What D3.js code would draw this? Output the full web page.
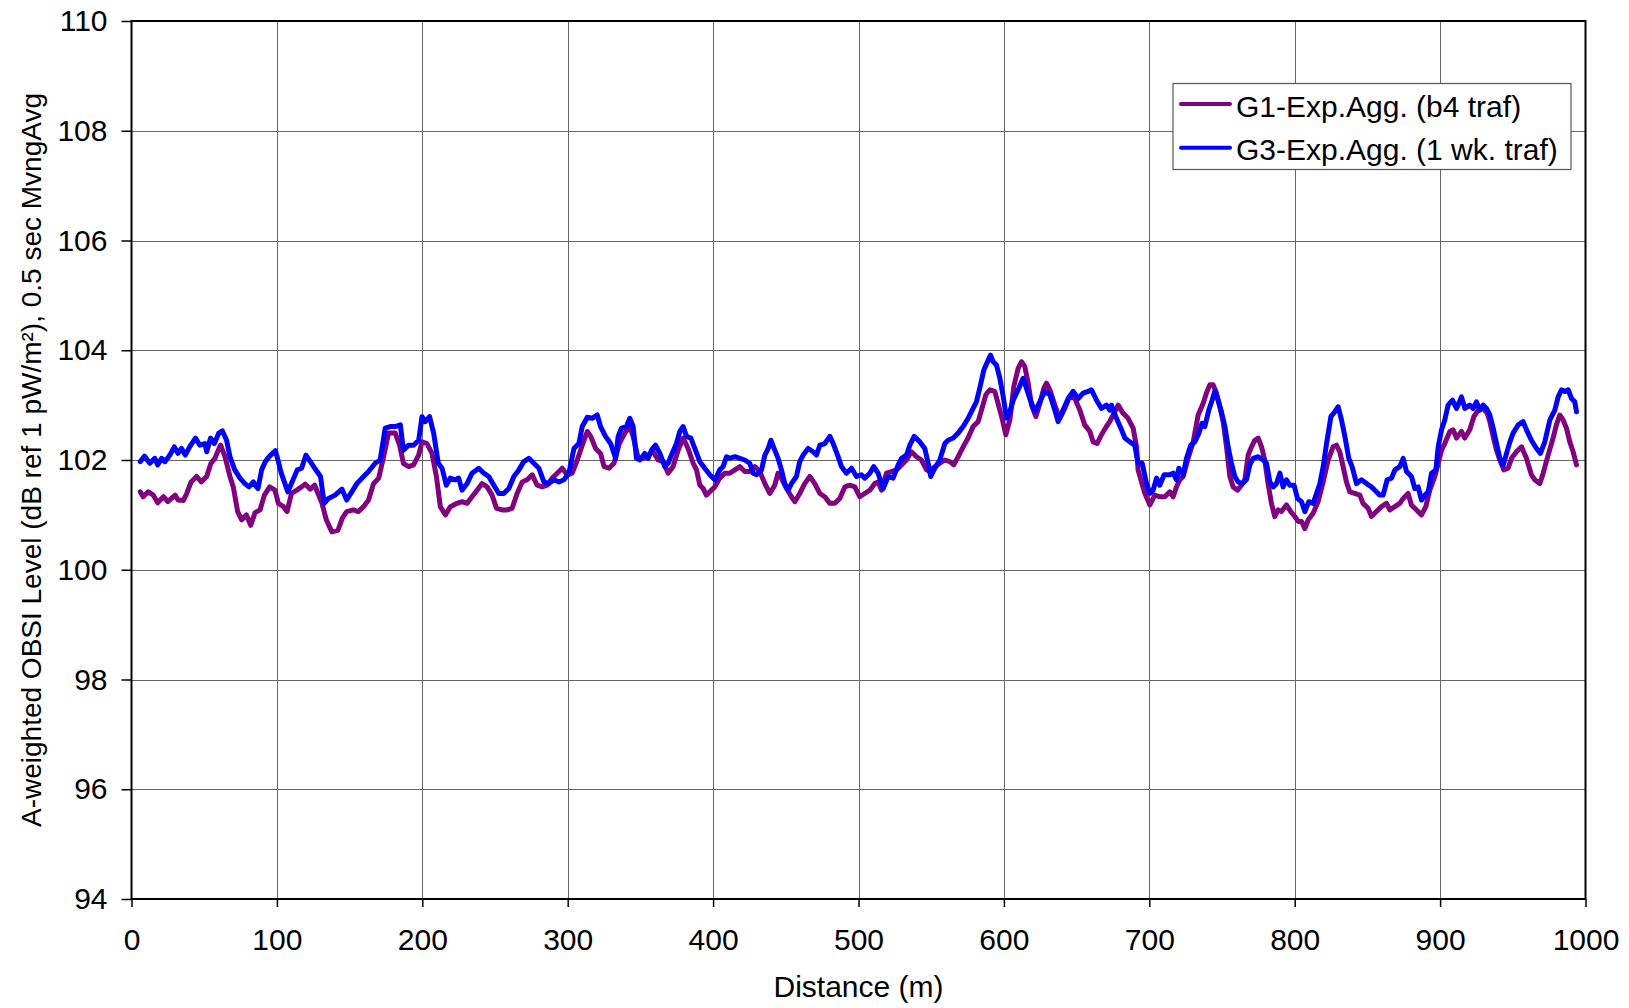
<!DOCTYPE html>
<html>
<head>
<meta charset="utf-8">
<script src="https://cdn.jsdelivr.net/npm/d3@7"></script>
<style>
  html, body { margin: 0; padding: 0; background: #fff; }
  svg { display: block; }
  text { font-family: "Liberation Sans", Arial, sans-serif; fill: #000; }
</style>
</head>
<body>
<svg id="chart" width="1629" height="1008"></svg>
<script>
// ---- data ----
const xTicks = [0, 100, 200, 300, 400, 500, 600, 700, 800, 900, 1000];
const yTicks = [94, 96, 98, 100, 102, 104, 106, 108, 110];
const seriesNames = ["G1-Exp.Agg. (b4 traf)", "G3-Exp.Agg. (1 wk. traf)"];
const seriesColors = ["#800080", "#0000FF"];
const xTitle = "Distance (m)";
const yTitle = "A-weighted OBSI Level (dB ref 1 pW/m²), 0.5 sec MvngAvg";

const g1Dist = [6,8,11.5,15,18,22,25,30,32,35.6,38,41,44.8,48,51.7,54.6,57.4,59.7,61.3,64.3,67.7,70,73,75.8,79,82,85,88.4,91.4,95,98.7,101,104.5,107,110,113.7,117,119.4,123,126,131,134,137.8,142,145,148,152.7,156,159.6,163,166.5,170,173.4,176.8,181.4,184.4,187,190.6,194,197.5,199.8,203.2,206.7,209.7,212.4,215.9,219.3,223.9,227.3,230.8,234.2,237.7,241.1,244.6,248,251,254.9,258.3,261.8,265.2,268.7,272.1,275.6,279,282.5,285.9,289.3,292.8,296.2,299.7,303.1,306.6,310,313.5,315.8,319.2,322.6,325,328.4,331.8,335.5,339.3,342.7,345,348.5,351.9,355.3,358.8,362.2,365.6,369.1,372.5,376,379.4,382.8,386.3,388.6,390.9,393.2,395.4,397.7,401.2,404.6,408,411.5,415,418.4,421.8,425.2,428.7,432.1,435.6,439,442.4,444.7,447,450.5,453.9,456.2,459.6,463,466.5,469.9,473.4,476.8,480.3,483.7,487.1,490.6,494,497.5,500.9,504.3,507.8,511.2,513.5,515.8,519.2,522.7,526.1,529.6,533,536.4,539.9,543.3,546.8,549,552.5,555.9,559.4,562.8,565.5,568.5,572,575.4,578.8,582.3,584.6,587.6,590.3,593.7,596,599,601.3,604.1,606.8,609.8,612.1,614.4,616.7,619,622,624.7,627.5,629.3,632,635,638.5,641.9,645.3,648.8,652.2,655.6,659.1,661.4,664.1,667.1,670.5,672.8,675.1,678.6,682,685.4,688.9,691.2,692.3,694.6,697,700.4,703.8,707.2,710.7,714.1,716.4,718.7,721,723.3,726.7,730.2,733.6,737,739.3,741.6,743.9,746.2,748.5,750.8,753.1,755.4,757.7,760.7,763.4,765.7,768,770.3,772.6,774.9,777.2,779.4,781.7,784,786.3,788.6,790.9,794.3,797.3,800.1,802.4,804.7,807,809.3,812.7,816.1,819.6,823,826.4,828.7,831,833.3,835.6,837.9,841.3,844.8,847,850.5,852.8,856.2,859.7,863.1,865.4,868.9,872.3,874.6,878,880.3,883.8,887.2,890.2,892.9,896.4,898.7,901,903.2,906.7,909,911.3,914.7,917,920.4,923.2,926.2,929.6,932.4,934.2,936.5,938.8,941.5,943.8,946.8,949.1,952.5,956,959.4,962.8,965.1,968.6,970.9,974.3,977.7,980,982.3,984.6,986.9,989.2,991.5,993.8];
const g1Vals = [101.42,101.33,101.42,101.36,101.22,101.33,101.24,101.36,101.27,101.26,101.39,101.60,101.70,101.60,101.70,101.94,102.03,102.18,102.27,102.06,101.70,101.51,101.06,100.91,101.00,100.81,101.04,101.09,101.36,101.51,101.45,101.21,101.15,101.06,101.39,101.45,101.51,101.56,101.47,101.54,101.21,100.91,100.69,100.72,100.94,101.06,101.09,101.06,101.15,101.27,101.57,101.67,102.06,102.49,102.49,102.27,101.94,101.88,101.91,102.09,102.33,102.30,102.12,101.70,101.15,101.00,101.15,101.21,101.24,101.21,101.33,101.45,101.57,101.51,101.36,101.12,101.09,101.09,101.12,101.39,101.60,101.64,101.73,101.54,101.51,101.54,101.67,101.76,101.85,101.73,101.76,102.00,102.27,102.52,102.43,102.21,102.12,101.88,101.85,101.94,102.30,102.49,102.61,102.43,102.03,102.03,102.09,102.15,102.00,101.97,101.76,101.88,102.18,102.40,102.21,101.94,101.82,101.54,101.48,101.36,101.42,101.51,101.67,101.76,101.76,101.82,101.88,101.79,101.79,101.88,101.79,101.57,101.39,101.54,101.76,101.67,101.48,101.33,101.24,101.39,101.57,101.70,101.57,101.39,101.33,101.21,101.21,101.30,101.51,101.54,101.51,101.33,101.39,101.45,101.57,101.60,101.45,101.76,101.79,101.82,101.91,102.00,102.15,102.06,102.00,101.82,101.79,101.88,101.94,102.00,101.97,101.91,102.06,102.24,102.40,102.61,102.70,102.91,103.19,103.28,103.25,103.03,102.73,102.46,102.73,103.34,103.67,103.79,103.70,103.40,103.00,102.79,103.03,103.31,103.40,103.25,103.00,102.76,102.94,103.16,103.12,102.91,102.64,102.52,102.33,102.30,102.46,102.61,102.70,102.82,103.00,102.85,102.76,102.58,102.24,101.82,101.60,101.39,101.18,101.36,101.33,101.33,101.42,101.33,101.51,101.64,101.70,102.03,102.33,102.82,103.03,103.22,103.37,103.37,103.22,102.97,102.70,102.24,101.70,101.51,101.45,101.54,101.64,102.09,102.24,102.36,102.40,102.24,102.00,101.57,101.21,100.97,101.09,101.06,101.18,101.06,100.97,100.88,100.88,100.75,100.91,101.03,101.24,101.60,102.00,102.24,102.27,102.15,101.88,101.60,101.42,101.39,101.36,101.21,101.12,100.97,101.06,101.15,101.21,101.09,101.15,101.21,101.30,101.39,101.18,101.09,101.00,101.15,101.45,101.70,101.94,102.18,102.30,102.52,102.55,102.40,102.52,102.40,102.55,102.79,102.91,102.94,102.85,102.70,102.43,102.18,101.97,101.82,101.85,102.03,102.15,102.24,102.03,101.73,101.64,101.57,101.76,102.09,102.40,102.64,102.82,102.73,102.58,102.33,102.15,101.91];

const g3Dist = [6,9,12.6,16,18,20.7,23,26.4,29.4,32,34.4,37,40,44,47,50.5,51.7,54.4,57,60,62.5,65.4,67.7,71,74.6,78,80.8,83.8,86,87,89.5,92,95,99,101,103,107.5,110,114,117,120,123,126,130,132.5,135.5,140,144.7,148,151.5,155,159.6,163,167.6,171,174.5,178,181.4,184.9,187,190.6,194,197.5,199.8,202,205,207.8,211,213.6,216.5,219.3,222.7,225,227.3,230.8,234.2,238.8,242.3,245.7,249.2,252.6,256,259.5,263,266.4,269.8,273.3,276.7,280.2,283.6,287,290.5,293.9,297.4,300.8,304.3,307.7,310,313.5,316.9,320.3,322.6,326,329.5,333,334.7,337,340.4,342.7,345,347.3,349.6,353,355.3,357.6,360.4,363.4,366.8,369.1,371.8,374.8,377.1,379.4,381.7,384.7,387.4,390.9,394.3,397.7,401.2,404.6,406.9,409.2,411.5,415,418.4,421.8,425.2,427.5,429.9,433.3,435.6,437.9,439.7,442.4,444.7,447,449.3,451.6,453.9,457.3,459.6,461.9,465.4,468.8,471.1,473.4,476.8,480.3,482.6,486,488.3,491.7,495.2,498.6,502,504.3,507.8,510.5,513.5,517,520.4,523.8,527.3,529.6,533,535.3,538.3,542.2,545.6,547.9,549.7,552.5,555.9,559.4,561.6,565.1,568.5,572,575.4,578.8,581.1,583.4,586.2,589.2,590.8,592.6,594.9,597.2,599.5,601.8,604.1,606.4,609.8,613.2,615.5,617.8,621.3,624.7,628.1,631.6,635,637.3,640.7,644.2,647.6,651.1,654.5,657.9,660.2,663.7,667.1,670.5,672.8,674,677.4,680.9,683.2,686.6,690,692.3,695.1,698.1,700.4,702.6,705,707.2,710.2,714.1,716.4,718.7,720.3,723.3,725.6,728.5,731.3,734.1,736.3,738.2,740.9,743.2,745,747.3,749.6,752,754.2,756.5,758.8,761.1,763.9,766.8,769.1,771.4,774.9,778.3,780.6,782.9,785.2,787.5,789.8,792,794.3,796.6,799.6,801.9,804.7,807,809.7,812.7,815,817.3,819.6,821.9,824.9,827.6,829.9,832.2,834.5,837.2,839.5,842.5,845.9,849.4,852.8,855.1,858.5,860.8,863.6,866.6,868.9,872.3,874.6,876.9,880.3,882.6,884.9,887.2,889.5,891.8,894.1,897.1,898.7,901,903.2,905.5,908.5,911.3,914.7,917,920.4,922.7,925,927.3,929.6,931.9,934.2,936.5,938.8,941.1,943.4,945.7,948,950.2,953.7,957.1,959.4,962.8,966.3,969,972,975.5,978.9,981.2,983.5,985.8,988.1,990.4,992.6,993.8];
const g3Vals = [101.97,102.07,101.94,102.03,101.91,102.03,101.97,102.09,102.24,102.12,102.21,102.09,102.24,102.40,102.27,102.30,102.15,102.40,102.30,102.49,102.53,102.36,102.06,101.82,101.67,101.57,101.51,101.60,101.51,101.48,101.82,101.97,102.07,102.17,101.97,101.76,101.42,101.57,101.82,101.85,102.09,101.97,101.85,101.70,101.21,101.30,101.36,101.47,101.27,101.42,101.57,101.70,101.79,101.94,102.00,102.58,102.61,102.61,102.64,102.18,102.27,102.27,102.36,102.79,102.70,102.79,102.49,101.94,101.85,101.54,101.67,101.64,101.67,101.45,101.57,101.76,101.85,101.76,101.70,101.54,101.39,101.39,101.48,101.70,101.82,101.97,102.03,101.94,101.85,101.60,101.57,101.64,101.60,101.64,101.76,102.21,102.30,102.61,102.78,102.76,102.82,102.61,102.43,102.30,102.03,102.43,102.58,102.61,102.76,102.61,102.03,102.00,102.12,102.03,102.18,102.27,102.12,101.88,101.94,102.12,102.30,102.52,102.61,102.43,102.40,102.21,101.97,101.85,101.73,101.64,101.82,101.88,102.06,102.03,102.06,102.03,102.00,101.94,101.76,101.73,101.82,102.09,102.21,102.36,102.18,102.03,101.82,101.57,101.45,101.57,101.70,101.97,102.09,102.21,102.15,102.09,102.27,102.30,102.43,102.30,102.06,101.88,101.76,101.85,101.70,101.73,101.67,101.76,101.88,101.76,101.48,101.70,101.67,101.91,102.03,102.09,102.27,102.43,102.33,102.21,101.94,101.70,101.85,102.00,102.30,102.36,102.40,102.49,102.61,102.76,102.94,103.06,103.31,103.64,103.82,103.91,103.79,103.73,103.49,103.16,102.76,102.88,103.09,103.28,103.49,103.31,103.12,102.88,103.06,103.25,103.19,102.91,102.70,102.91,103.12,103.25,103.12,103.22,103.25,103.28,103.09,102.94,103.00,102.91,103.00,102.76,102.55,102.40,102.33,102.27,101.94,101.94,101.57,101.39,101.45,101.67,101.54,101.73,101.73,101.76,101.64,101.85,101.73,102.03,102.27,102.33,102.49,102.67,102.61,102.91,103.09,103.25,103.09,102.88,102.61,102.24,101.94,101.70,101.60,101.57,101.64,101.91,102.03,102.06,102.00,101.94,101.60,101.51,101.57,101.76,101.51,101.64,101.54,101.54,101.30,101.24,101.06,101.24,101.21,101.39,101.57,101.88,102.30,102.79,102.88,102.97,102.73,102.43,102.03,101.88,101.57,101.64,101.57,101.51,101.45,101.36,101.36,101.64,101.67,101.82,101.88,102.03,101.79,101.70,101.48,101.51,101.27,101.36,101.42,101.76,101.82,102.24,102.55,102.73,103.00,103.09,102.94,103.15,102.94,103.00,102.94,103.06,102.91,103.00,102.94,102.82,102.58,102.30,102.03,101.91,102.12,102.33,102.49,102.64,102.70,102.55,102.36,102.21,102.12,102.33,102.73,102.91,103.15,103.28,103.25,103.28,103.12,103.06,102.88];

// ---- layout ----
const W = 1629, H = 1008;
const margin = { left: 131.5, right: 1629 - 1585.5, top: 21, bottom: 1008 - 899 };
const FONT = 30;

const svg = d3.select("#chart");
const x = d3.scaleLinear().domain([0, 1000]).range([margin.left, W - margin.right]);
const y = d3.scaleLinear().domain([94, 110]).range([H - margin.bottom, margin.top]);

// gridlines
const grid = svg.append("g").attr("class", "grid");
grid.selectAll("line.v").data(xTicks.slice(1, -1)).join("line")
  .attr("x1", d => Math.round(x(d)) + 0.5).attr("x2", d => Math.round(x(d)) + 0.5)
  .attr("y1", y(110)).attr("y2", y(94))
  .attr("stroke", "#666").attr("stroke-width", 1);
grid.selectAll("line.h").data(yTicks.slice(1, -1)).join("line")
  .attr("x1", x(0)).attr("x2", x(1000))
  .attr("y1", d => Math.round(y(d)) + 0.5).attr("y2", d => Math.round(y(d)) + 0.5)
  .attr("stroke", "#666").attr("stroke-width", 1);

// axes
const xAxis = d3.axisBottom(x).tickValues(xTicks).tickFormat(d3.format("d"))
  .tickSize(8).tickSizeOuter(0).tickPadding(22);
const yAxis = d3.axisLeft(y).tickValues(yTicks).tickFormat(d3.format("d"))
  .tickSize(10).tickSizeOuter(0).tickPadding(14);

const gx = svg.append("g").attr("transform", `translate(0,${y(94)})`).call(xAxis);
const gy = svg.append("g").attr("transform", `translate(${x(0)},0)`).call(yAxis);
[gx, gy].forEach(g => {
  g.selectAll("text").attr("font-size", FONT).attr("font-family", '"Liberation Sans", Arial, sans-serif').attr("fill", "#000");
  g.selectAll("line").attr("stroke", "#000").attr("stroke-width", 1.5);
  g.select(".domain").remove();
});

// series
const g1 = g1Dist.map((d, i) => [d, g1Vals[i]]);
const g3 = g3Dist.map((d, i) => [d, g3Vals[i]]);
const line = d3.line().x(d => x(d[0])).y(d => y(d[1]));
[g1, g3].forEach((s, i) => {
  svg.append("path").datum(s).attr("d", line)
    .attr("fill", "none").attr("stroke", seriesColors[i])
    .attr("stroke-width", 5).attr("stroke-linejoin", "round").attr("stroke-linecap", "round");
});

// frame
svg.append("rect")
  .attr("x", x(0)).attr("y", y(110))
  .attr("width", x(1000) - x(0)).attr("height", y(94) - y(110))
  .attr("fill", "none").attr("stroke", "#000").attr("stroke-width", 2);

// axis titles
svg.append("text").attr("x", (x(0) + x(1000)) / 2).attr("y", 997)
  .attr("text-anchor", "middle").attr("font-size", FONT).text(xTitle);
svg.append("text")
  .attr("transform", `translate(41,${(y(94) + y(110)) / 2}) rotate(-90)`)
  .attr("text-anchor", "middle").attr("font-size", 28).text(yTitle);

// legend
const lg = svg.append("g");
lg.append("rect").attr("x", 1173).attr("y", 83.5).attr("width", 398).attr("height", 86)
  .attr("fill", "#fff").attr("stroke", "#555").attr("stroke-width", 1.2);
seriesNames.forEach((name, i) => {
  const cy = 104 + i * 43.7;
  lg.append("line").attr("x1", 1181).attr("x2", 1230).attr("y1", cy).attr("y2", cy)
    .attr("stroke", seriesColors[i]).attr("stroke-width", 4).attr("stroke-linecap", "round");
  lg.append("text").attr("x", 1236).attr("y", cy + 12.5).attr("font-size", FONT).text(name);
});
</script>
</body>
</html>
